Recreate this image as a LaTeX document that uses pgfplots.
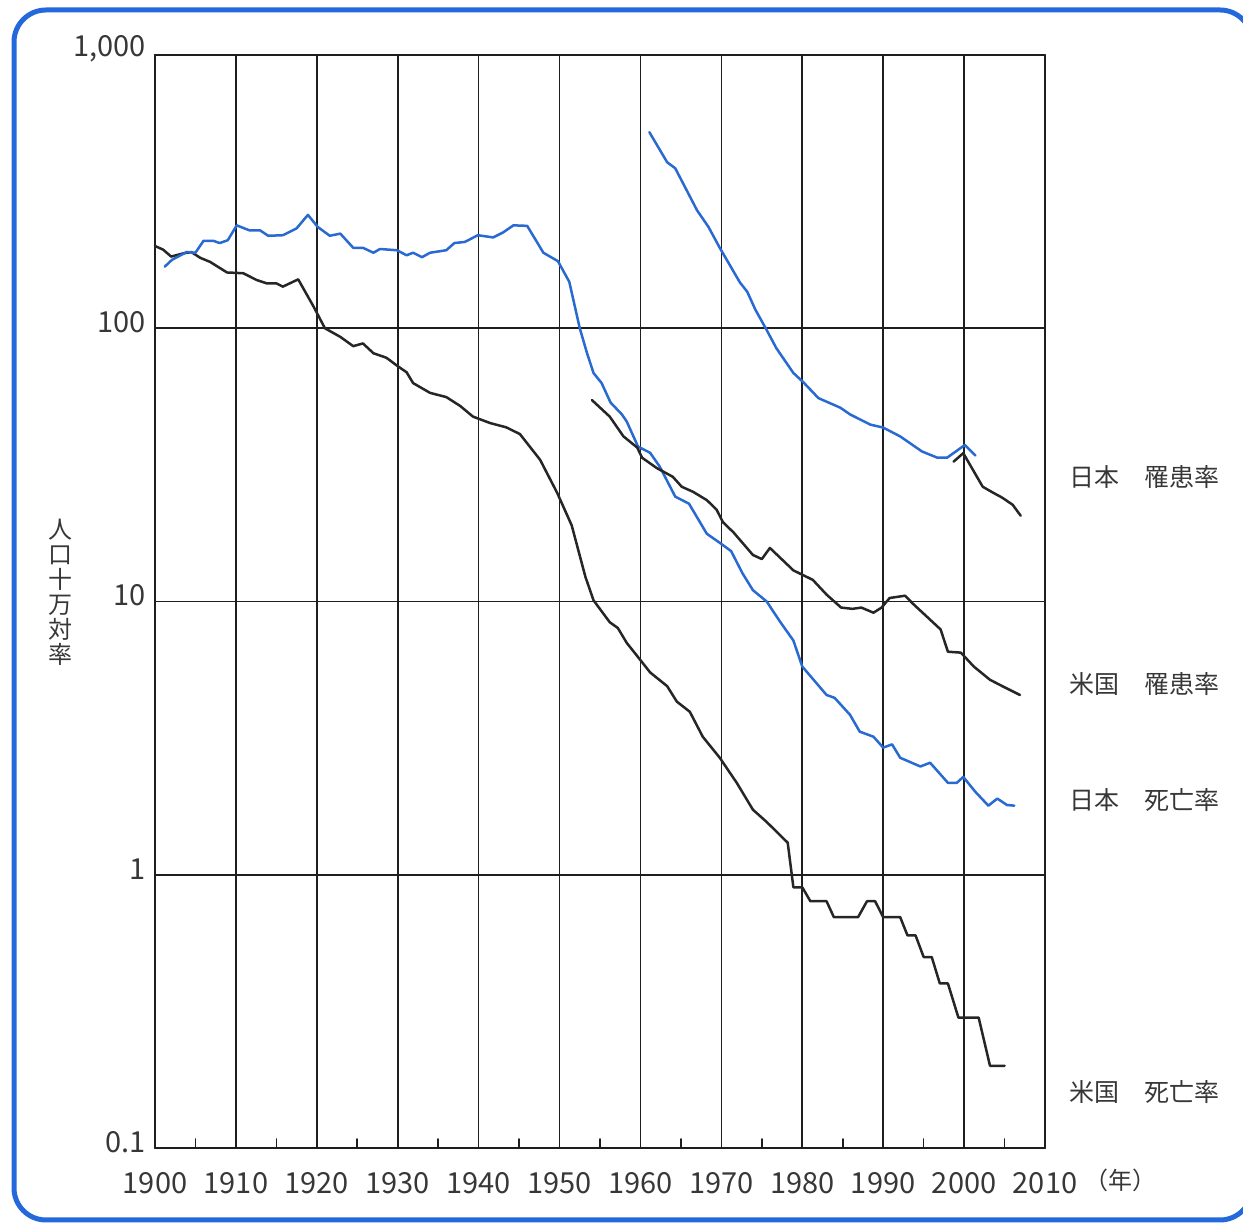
\documentclass[border=0pt]{standalone}
\usepackage{fontspec}
\setmainfont{Noto Sans CJK JP}
\usepackage{pgfplots}
\pgfplotsset{compat=1.18}
\definecolor{jblue}{RGB}{40,105,210}
\definecolor{frameblue}{RGB}{35,105,220}
\definecolor{txt}{RGB}{55,55,55}
\definecolor{gridc}{RGB}{30,30,30}
\begin{document}
\begin{tikzpicture}[x=1pt,y=1pt]
\useasboundingbox (0,0) rectangle (1243,1223);
\begin{scope}
\clip (0,0) rectangle (1243,1223);
\draw[frameblue, line width=5pt, rounded corners=32pt] (14,3) rectangle (1252,1213);
\end{scope}
\begin{axis}[
  at={(155pt,75pt)}, anchor=south west,
  width=890pt, height=1093pt, scale only axis,
  xmin=1900, xmax=2010,
  ymode=log, ymin=0.1, ymax=1000,
  xtick={1900,1910,1920,1930,1940,1950,1960,1970,1980,1990,2000,2010},
  xticklabels={1900,1910,1920,1930,1940,1950,1960,1970,1980,1990,2000,2010},
  minor xtick={1905,1915,1925,1935,1945,1955,1965,1975,1985,1995,2005},
  ytick={0.1,1,10,100,1000},
  yticklabels={0.1,1,10,100,{1,000}},
  yminorticks=false,
  major tick length=0pt,
  minor tick length=9pt,
  tick align=inside,
  xtick pos=bottom, ytick pos=left,
  minor tick style={gridc, line width=1.6pt},
  grid=major,
  major grid style={gridc, line width=1.7pt},
  axis line style={gridc, line width=1.8pt},
  ticklabel style={txt, font=\fontsize{29}{34}\selectfont},
  xticklabel style={yshift=-21pt},
  yticklabel style={xshift=-6pt, yshift=6pt},
  line join=round, line cap=round,
  clip=false,
]
% US death rate
\addplot[black!85, line width=2.5pt] coordinates {
(1900,200) (1901,194) (1902,183) (1903.5,188) (1904.5,190) (1905.6,181) (1906.8,175)
(1908.9,160) (1910.9,159) (1912.6,150) (1913.8,146) (1915,146) (1915.8,142) (1917.7,151)
(1919.6,120) (1921,100) (1922.9,93) (1924.5,86) (1925.7,88) (1927,81) (1928.6,78)
(1929.9,73) (1931.1,69) (1931.9,63) (1934,58) (1936,56) (1937.7,52) (1939.3,47.5)
(1941.4,45) (1943.4,43.4) (1945.1,41) (1947.6,33) (1949.7,25) (1951.5,19) (1953.2,12.3)
(1954.2,10.1) (1956.2,8.4) (1957.2,8.0) (1958.3,7.06) (1960,6.1) (1961.2,5.5) (1963.3,4.9)
(1964.5,4.3) (1966.1,3.95) (1967.7,3.2) (1969.8,2.68) (1971.9,2.17) (1973.9,1.73)
(1975.6,1.56) (1978.2,1.31) (1978.9,0.9) (1980,0.9) (1981,0.8) (1983,0.8) (1983.9,0.7)
(1986.9,0.7) (1988,0.8) (1989,0.8) (1990,0.7) (1992.1,0.7) (1993,0.6) (1994,0.6)
(1995,0.5) (1996,0.5) (1997,0.4) (1998,0.4) (1999.3,0.3) (2001.8,0.3) (2003.2,0.2) (2005,0.2)
};
% Japan death rate
\addplot[jblue, line width=2.5pt] coordinates {
(1901.2,168) (1902.1,178) (1903.9,190) (1905,189) (1906,209) (1907.2,209) (1908,205)
(1909,210) (1910.1,238) (1911.7,228) (1913,228) (1914,218) (1915.8,219) (1917.5,232)
(1918.9,260) (1920.1,235) (1921.6,218) (1922.9,222) (1924.5,197) (1925.7,197) (1927,189)
(1927.8,195) (1929.9,193) (1931.1,185) (1931.9,189) (1933,182) (1934,189) (1936,193)
(1937,205) (1938.3,207) (1939.9,219) (1941.8,215) (1943,224) (1944.3,238) (1946,237)
(1948,189) (1949.8,176) (1951.2,148) (1952.5,100) (1953.4,81) (1954.2,68.6) (1955.2,63)
(1956.3,53.5) (1957.7,48.4) (1958.3,45.6) (1959.7,36.9) (1961.2,35) (1962.4,31.1)
(1964.3,24.2) (1966,22.8) (1968.2,17.7) (1969.8,16.4) (1971.2,15.3) (1972.6,12.7)
(1973.9,11.0) (1975.6,10.0) (1977.3,8.4) (1978.9,7.2) (1980,5.78) (1983,4.55) (1984,4.44)
(1985.9,3.85) (1987.1,3.34) (1988.8,3.2) (1990,2.92) (1991.1,3.0) (1992.1,2.68)
(1994.6,2.49) (1995.8,2.57) (1998,2.17) (1999.1,2.17) (1999.9,2.28) (2001.4,2.01)
(2003,1.79) (2004.1,1.90) (2005.3,1.80) (2006.2,1.79)
};
% Japan incidence (blue)
\addplot[jblue, line width=2.5pt] coordinates {
(1961.1,522) (1963.3,405) (1964.3,385) (1967,270) (1968.4,235) (1969.8,197) (1972.3,147)
(1973.2,136) (1974.2,117) (1975.6,98.5) (1976.8,84.5) (1978.9,68.6) (1980.1,63.6)
(1982,55.5) (1984.7,51.2) (1985.9,48.4) (1988.4,44.4) (1990,43.3) (1992.1,40.2)
(1994.8,35.4) (1996.7,33.6) (1997.9,33.6) (2000.1,37.4) (2001.4,34.2)
};
% Japan incidence (black, new series)
\addplot[black!85, line width=2.5pt] coordinates {
(1998.7,32.5) (1999.9,34.9) (2002.3,26.3) (2003.6,25) (2004.7,24) (2006,22.6) (2007,20.6)
};
% US incidence
\addplot[black!85, line width=2.5pt] coordinates {
(1954,54.6) (1956.2,47.5) (1957.9,40.2) (1959.6,36.6) (1960.2,33.6) (1962,30.8) (1964,28.6)
(1965.1,26.3) (1966.5,25.2) (1968.2,23.5) (1969.4,21.7) (1970.2,19.5) (1971.5,17.9)
(1973.9,14.8) (1975,14.3) (1976,15.7) (1978.9,13.0) (1981.3,12.0) (1983,10.6) (1984.8,9.5)
(1986.2,9.4) (1987.3,9.5) (1988.8,9.1) (1989.8,9.5) (1990.8,10.3) (1992.7,10.5)
(1993.7,9.8) (1995.4,8.8) (1997.1,7.9) (1998,6.55) (1999.6,6.5) (2001.2,5.78)
(2003.2,5.17) (2004.9,4.87) (2006.9,4.55)
};
\end{axis}
\node[txt, font=\fontsize{24}{25}\selectfont, align=center] at (60,631) {人\\口\\十\\万\\対\\率};
\node[txt, anchor=west, font=\fontsize{25}{30}\selectfont] at (1066,746) {日本　罹患率};
\node[txt, anchor=west, font=\fontsize{25}{30}\selectfont] at (1066,539) {米国　罹患率};
\node[txt, anchor=west, font=\fontsize{25}{30}\selectfont] at (1066,423) {日本　死亡率};
\node[txt, anchor=west, font=\fontsize{25}{30}\selectfont] at (1066,131) {米国　死亡率};
\node[txt, font=\fontsize{24}{28}\selectfont] at (1120,43) {（年）};
\end{tikzpicture}
\end{document}
